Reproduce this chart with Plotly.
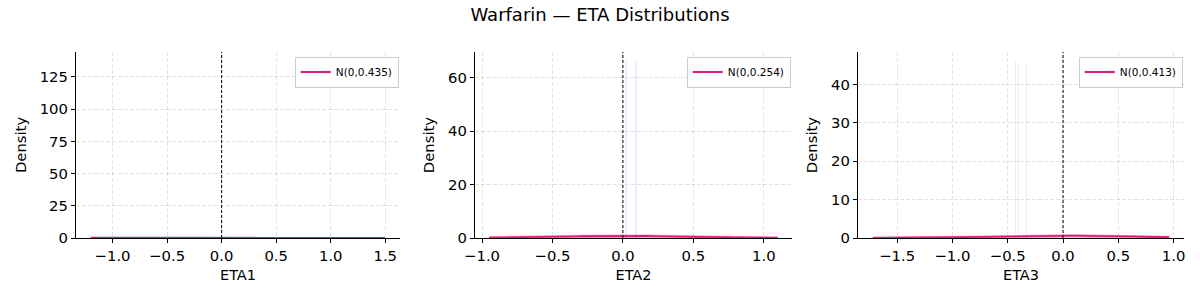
import numpy as np
import plotly.graph_objects as go

# ---- data ----
eta_names = ["ETA1", "ETA2", "ETA3"]
omega_var = [0.435, 0.254, 0.413]
curve_min = [-1.2, -0.95, -1.72]
curve_max = [1.5, 1.1, 0.96]
hist_x = [[0.0], [0.021, 0.095], [-0.429, -0.402, -0.33]]
hist_h = [[137.5], [66.4, 66.4], [46.2, 46.2, 46.2]]
x_ranges = [[-1.335, 1.635], [-1.05, 1.2], [-1.854, 1.094]]
y_ranges = [[0, 144.4], [0, 69.7], [0, 48.5]]
x_ticks = [[-1.0, -0.5, 0.0, 0.5, 1.0, 1.5], [-1.0, -0.5, 0.0, 0.5, 1.0], [-1.5, -1.0, -0.5, 0.0, 0.5, 1.0]]
y_ticks = [[0, 25, 50, 75, 100, 125], [0, 20, 40, 60], [0, 10, 20, 30, 40]]

x_domains = [[76/1200, 400/1200], [475/1200, 792/1200], [858/1200, 1184/1200]]
y_domain = [62/300, 248/300]

fig = go.Figure()
font = "DejaVu Sans"
magenta = "#dd1c77"
grid = "rgba(0,0,0,0.11)"

for i in range(3):
    xa = "x" if i == 0 else f"x{i+1}"
    ya = "y" if i == 0 else f"y{i+1}"
    lg = "legend" if i == 0 else f"legend{i+1}"
    # faint histogram bars
    fig.add_trace(go.Bar(x=hist_x[i], y=hist_h[i], width=0.012,
                         marker=dict(color="rgba(180,195,255,0.3)", line=dict(width=0)),
                         showlegend=False, xaxis=xa, yaxis=ya, hoverinfo="skip"))
    xs = np.linspace(curve_min[i], curve_max[i], 200)
    sd = np.sqrt(omega_var[i])
    pdf = np.exp(-0.5 * (xs / sd) ** 2) / (sd * np.sqrt(2 * np.pi))
    # pale fill under curve
    fig.add_trace(go.Scatter(x=xs, y=pdf, mode="lines", fill="tozeroy",
                             fillcolor="rgba(221,28,119,0.15)",
                             line=dict(color="rgba(221,28,119,0.35)", width=3),
                             showlegend=False, xaxis=xa, yaxis=ya, hoverinfo="skip"))
    fig.add_trace(go.Scatter(x=xs, y=pdf, mode="lines",
                             line=dict(color=magenta, width=1.8),
                             name=f"N(0,{omega_var[i]})", showlegend=True,
                             legend=lg, xaxis=xa, yaxis=ya))
    # zero line
    fig.add_trace(go.Scatter(x=[0, 0], y=y_ranges[i], mode="lines",
                             line=dict(color="black", width=1, dash="3px,2px"),
                             showlegend=False, xaxis=xa, yaxis=ya, hoverinfo="skip"))

layout = dict(
    width=1200, height=300, margin=dict(l=0, r=0, t=0, b=0, pad=0),
    plot_bgcolor="white", paper_bgcolor="white",
    font=dict(family=font, size=13, color="black"),
    bargap=0,
    title=dict(text="Warfarin — ETA Distributions", x=0.5, xanchor="center",
               y=1 - 15/300, yanchor="middle", font=dict(size=18, family=font),
               automargin=False),
)
for i in range(3):
    sfx = "" if i == 0 else str(i+1)
    layout[f"xaxis{sfx}"] = dict(
        domain=x_domains[i], range=x_ranges[i], anchor=f"y{sfx}",
        tickvals=x_ticks[i], ticktext=[f"{v:.1f}".replace("-", "−") for v in x_ticks[i]],
        ticks="outside", ticklen=4, tickcolor="black", showline=True, linecolor="black",
        linewidth=1.2, showgrid=True, gridcolor=grid, griddash="4px,2px",
        zeroline=False, mirror=False, automargin=False,
        tickfont=dict(size=14.8),
        title=dict(text=eta_names[i], font=dict(size=14.5), standoff=6),
    )
    layout[f"yaxis{sfx}"] = dict(
        domain=y_domain, range=y_ranges[i], anchor=f"x{sfx}",
        tickvals=y_ticks[i], ticks="outside", ticklen=4, tickcolor="black",
        showline=True, linecolor="black", linewidth=1.2, showgrid=True,
        gridcolor=grid, griddash="4px,2px", zeroline=False, automargin=False,
        tickfont=dict(size=14.8),
        title=dict(text="Density", font=dict(size=14.8), standoff=9),
    )
    layout["legend" if i == 0 else f"legend{i+1}"] = dict(
        x=x_domains[i][1] - 0.001, xanchor="right", y=y_domain[1] - 0.015, yanchor="top",
        bgcolor="white", bordercolor="rgba(0,0,0,0.2)", borderwidth=1,
        font=dict(size=10.5, family=font), itemwidth=30,
        tracegroupgap=0,
    )

fig.update_layout(**layout)
fig.write_html("out.html")
